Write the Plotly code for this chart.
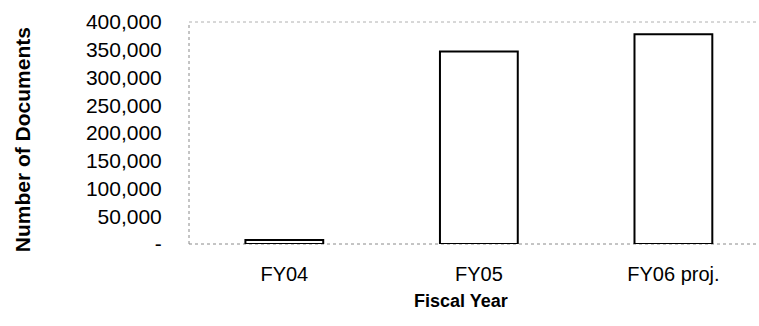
import plotly.graph_objects as go

# Documents processed per fiscal year
categories = ["FY04", "FY05", "FY06 proj."]
documents = [7000, 347000, 378000]

# Y-axis ticks (accounting style: zero shown as a dash)
y_tickvals = [0, 50000, 100000, 150000, 200000, 250000, 300000, 350000, 400000]
y_ticktext = ["-", "50,000", "100,000", "150,000", "200,000", "250,000",
              "300,000", "350,000", "400,000"]

FONT = "Liberation Sans, Arial, sans-serif"

fig = go.Figure(
    go.Bar(
        x=list(range(len(categories))),
        y=documents,
        width=0.40,
        marker=dict(color="white", line=dict(color="black", width=2)),
        hoverinfo="skip",
    )
)

# Dotted frame of the plot area (left, bottom, top)
frame = dict(type="line", xref="paper", yref="paper", layer="below",
             line=dict(color="#8a8a8a", width=1, dash="dot"))
shapes = [
    dict(frame, x0=0, x1=0, y0=0, y1=1),
    dict(frame, x0=0, x1=1, y0=0, y1=0),
    dict(frame, x0=0, x1=1, y0=1, y1=1, line=dict(color="#b0b0b0", width=1, dash="dot")),
]

fig.update_layout(
    width=759,
    height=326,
    margin=dict(l=189, r=0, t=22, b=82),
    paper_bgcolor="white",
    plot_bgcolor="white",
    showlegend=False,
    font=dict(family=FONT, color="black"),
    shapes=shapes,
    xaxis=dict(
        range=[-0.49, 2.44],
        tickvals=list(range(len(categories))),
        ticktext=categories,
        showgrid=False,
        zeroline=False,
        showline=False,
        ticks="outside",
        ticklen=12,
        tickcolor="rgba(0,0,0,0)",
        tickfont=dict(size=20, family=FONT),
        fixedrange=True,
    ),
    yaxis=dict(
        range=[0, 400000],
        tickvals=y_tickvals,
        ticktext=y_ticktext,
        showgrid=False,
        zeroline=False,
        showline=False,
        ticks="outside",
        ticklen=22,
        tickcolor="rgba(0,0,0,0)",
        tickfont=dict(size=21, family=FONT),
        fixedrange=True,
    ),
    annotations=[
        dict(text="<b>Number of Documents</b>", textangle=-90,
             xref="paper", yref="paper", x=-0.292, y=0.47,
             xanchor="center", yanchor="middle", showarrow=False,
             font=dict(size=21, family=FONT, color="black")),
        dict(text="<b>Fiscal Year</b>",
             xref="paper", yref="paper", x=(461 - 189) / 570, y=-0.255,
             xanchor="center", yanchor="middle", showarrow=False,
             font=dict(size=18, family=FONT, color="black")),
    ],
)

fig.write_html("out.html")
